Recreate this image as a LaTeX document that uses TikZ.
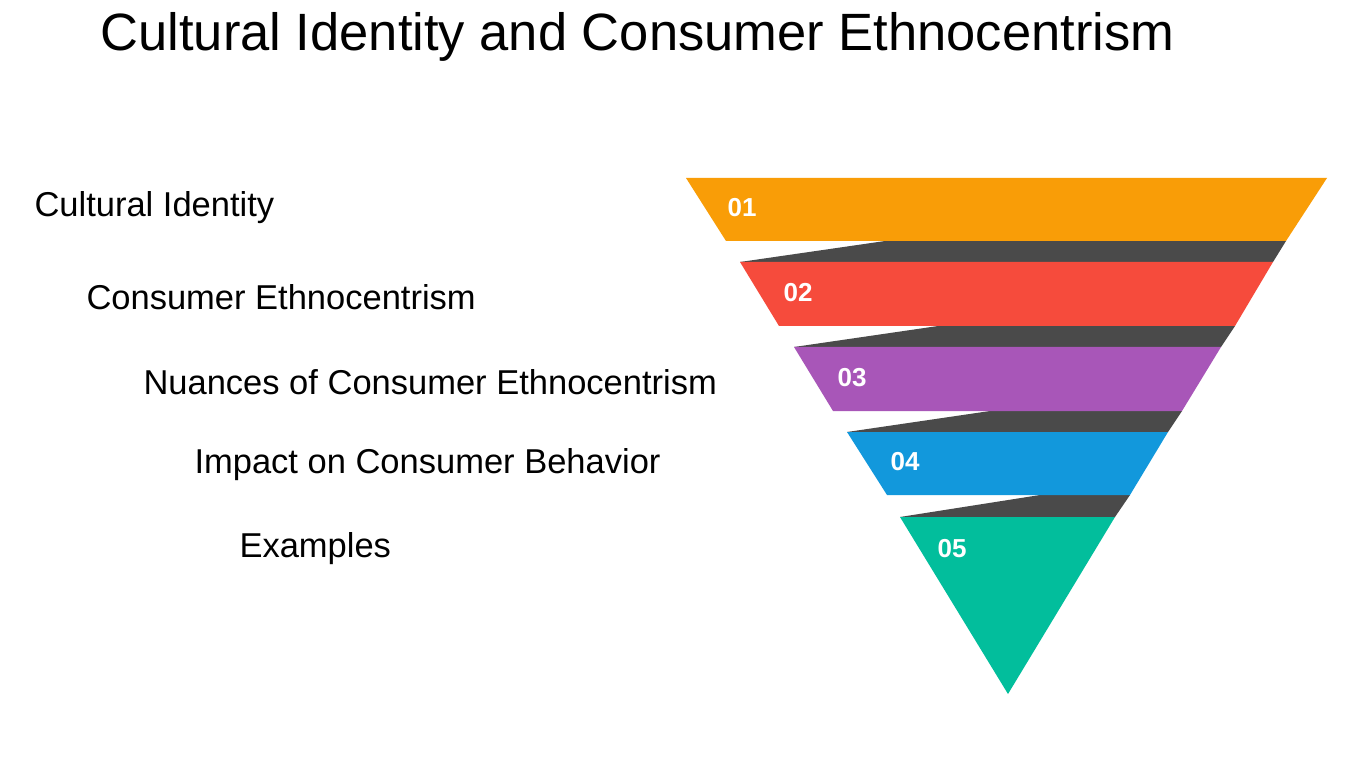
\documentclass[tikz,border=0pt]{standalone}
\usepackage{fontspec}
\setmainfont{Liberation Sans}
\definecolor{dk}{HTML}{4A4A4A}
\definecolor{c1}{HTML}{F99D07}
\definecolor{c2}{HTML}{F64B3C}
\definecolor{c3}{HTML}{A856B8}
\definecolor{c4}{HTML}{1298DC}
\definecolor{c5}{HTML}{02BE9C}
\begin{document}
\begin{tikzpicture}[x=1pt,y=-1pt,
  lbl/.style={anchor=west,font=\fontsize{34.5}{38}\selectfont},
  num/.style={text=white,font=\fontsize{26}{28}\selectfont\bfseries}]
\useasboundingbox (0,0) rectangle (1350,759);
\fill[white] (0,0) rectangle (1350,759);
\node[anchor=west,font=\fontsize{52.5}{56}\selectfont] (title) at (97,37) {Cultural Identity and Consumer Ethnocentrism};
\fill[dk] (885,241)--(1286,241)--(1273,262)--(740,262)--cycle;
\fill[dk] (938,326)--(1235,326)--(1221,347)--(794,347)--cycle;
\fill[dk] (990,411)--(1182,411)--(1168,432)--(847,432)--cycle;
\fill[dk] (1040,495)--(1130,495)--(1115,517)--(900,517)--cycle;
\fill[c1] (686,178)--(1327,178)--(1286,241)--(726,241)--cycle;
\fill[c2] (740,262)--(1273,262)--(1235,326)--(779,326)--cycle;
\fill[c3] (794,347)--(1221,347)--(1182,411)--(833,411)--cycle;
\fill[c4] (847,432)--(1168,432)--(1130,495)--(887,495)--cycle;
\fill[c5] (900,517)--(1115,517)--(1008,694)--cycle;
\node[num] (n1) at (742,208) {01};
\node[num] (n2) at (798,293) {02};
\node[num] (n3) at (852,378) {03};
\node[num] (n4) at (905,462) {04};
\node[num] (n5) at (952,549) {05};
\node[lbl] (l1) at (31,208) {Cultural Identity};
\node[lbl] (l2) at (83,297) {Consumer Ethnocentrism};
\node[lbl] (l3) at (140,382) {Nuances of Consumer Ethnocentrism};
\node[lbl] (l4) at (191,465) {Impact on Consumer Behavior};
\node[lbl] (l5) at (236,549) {Examples};
\end{tikzpicture}
\end{document}
